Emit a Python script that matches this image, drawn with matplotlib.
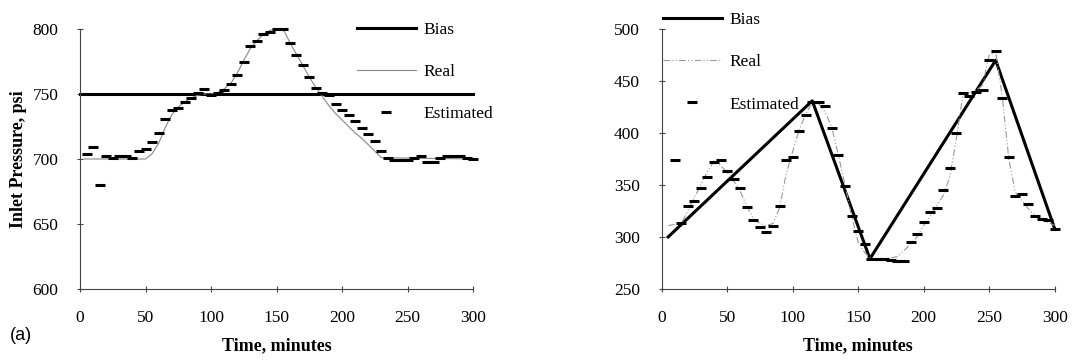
import numpy as np
import matplotlib.pyplot as plt

# temps des points estimes (toutes les 5 minutes)
t_est_g = list(range(5, 305, 5))
est_g = [704, 709, 680, 702, 701, 702, 702, 701, 706, 708,
         713, 720, 731, 738, 739, 744, 747, 751, 754, 749,
         751, 753, 758, 765, 775, 787, 791, 796, 798, 800,
         800, 789, 780, 772, 763, 755, 751, 749, 742, 738,
         734, 729, 724, 719, 714, 706, 701, 699, 699, 699,
         701, 702, 698, 698, 701, 702, 702, 702, 701, 700]

t_reel_g = [3, 50, 55, 60, 65, 70, 75, 80, 85, 90, 95, 100, 105, 110, 115, 120,
            125, 130, 135, 140, 145, 150, 155, 160, 165, 170, 175, 180, 185,
            190, 195, 200, 205, 210, 215, 220, 225, 230, 300]
reel_g = [700, 700, 704, 712, 724, 734, 740, 744, 747, 749, 750, 750, 751, 754,
          758, 766, 776, 785, 791, 796, 799, 800, 800, 790, 781, 772, 763, 755,
          748, 741, 735, 730, 725, 720, 716, 711, 706, 701, 700]

t_biais_g = [0, 300]
biais_g = [750, 750]

# graphe de droite
t_est_d = list(range(10, 305, 5))
est_d = [374, 313, 330, 335, 347, 358, 372, 374, 363, 356,
         347, 329, 316, 310, 305, 311, 330, 374, 377, 402,
         417, 430, 430, 426, 405, 379, 349, 320, 306, 293,
         279, 279, 279, 278, 277, 277, 295, 303, 314, 324,
         328, 345, 366, 400, 438, 436, 439, 441, 470, 479,
         434, 377, 339, 341, 332, 320, 317, 316, 308]

t_reel_d = list(range(5, 305, 5))
reel_d = [311, 312, 313, 325, 338, 350, 363, 373, 369, 362,
          354, 344, 330, 318, 313, 311, 313, 328, 360, 382,
          403, 418, 430, 428, 420, 405, 378, 350, 320, 295,
          285, 279, 279, 279, 280, 281, 287, 293, 300, 311,
          320, 330, 340, 358, 395, 437, 439, 441, 446, 475,
          478, 435, 375, 343, 335, 327, 321, 317, 314, 311]

t_biais_d = [5, 115, 159, 255, 300]
biais_d = [300, 431, 279, 470, 308]

plt.rcParams['font.family'] = 'Liberation Serif'
plt.rcParams['font.size'] = 12.5

fig = plt.figure(figsize=(10.74, 3.63), dpi=100)
ax1 = fig.add_axes([0.0745, 0.204, 0.366, 0.716])
ax2 = fig.add_axes([0.616, 0.204, 0.366, 0.716])

ax1.plot(t_biais_g, biais_g, color='black', lw=2.2, label='Bias', clip_on=False)
ax1.plot(t_reel_g, reel_g, color='#888888', lw=0.8, label='Real', clip_on=False)
ax1.plot(t_est_g, est_g, ls='none', marker='_', ms=7, mew=2.2, color='black',
         label='Estimated', clip_on=False)

ax2.plot(t_biais_d, biais_d, color='black', lw=2.2, label='Bias', clip_on=False)
ax2.plot(t_reel_d, reel_d, color='#999999', lw=0.8, ls=(0, (6, 2, 1, 2, 1, 2)),
         label='Real', clip_on=False)
ax2.plot(t_est_d, est_d, ls='none', marker='_', ms=7, mew=2.2, color='black',
         label='Estimated', clip_on=False)

for ax in (ax1, ax2):
    ax.set_xlim(0, 300)
    ax.set_xticks([0, 50, 100, 150, 200, 250, 300])
    ax.spines['top'].set_visible(False)
    ax.spines['right'].set_visible(False)
    ax.spines['left'].set_color('#444444')
    ax.spines['bottom'].set_color('#444444')
    ax.tick_params(direction='inout', length=5, width=0.8, color='#444444')
    ax.tick_params(axis='x', pad=13)
    ax.tick_params(axis='y', pad=13)
    ax.set_xlabel('Time, minutes', fontweight='bold', fontsize=13, labelpad=8)

ax1.set_ylim(600, 800)
ax1.set_yticks([600, 650, 700, 750, 800])
ax1.set_ylabel('Inlet Pressure, psi', fontweight='bold', fontsize=13, labelpad=4)
ax2.set_ylim(250, 500)
ax2.set_yticks([250, 300, 350, 400, 450, 500])

ax1.legend(loc='upper left', bbox_to_anchor=(0.332, 0.940), bbox_transform=fig.transFigure,
           frameon=False, handlelength=3.4, handletextpad=0.45, labelspacing=1.5,
           borderpad=0, borderaxespad=0)
ax2.legend(loc='upper left', bbox_to_anchor=(0.617, 0.967), bbox_transform=fig.transFigure,
           frameon=False, handlelength=3.4, handletextpad=0.45, labelspacing=1.5,
           borderpad=0, borderaxespad=0)

fig.text(0.009, 0.063, '(a)', family='Liberation Sans', fontsize=13)

fig.savefig('out.png', dpi=100)
